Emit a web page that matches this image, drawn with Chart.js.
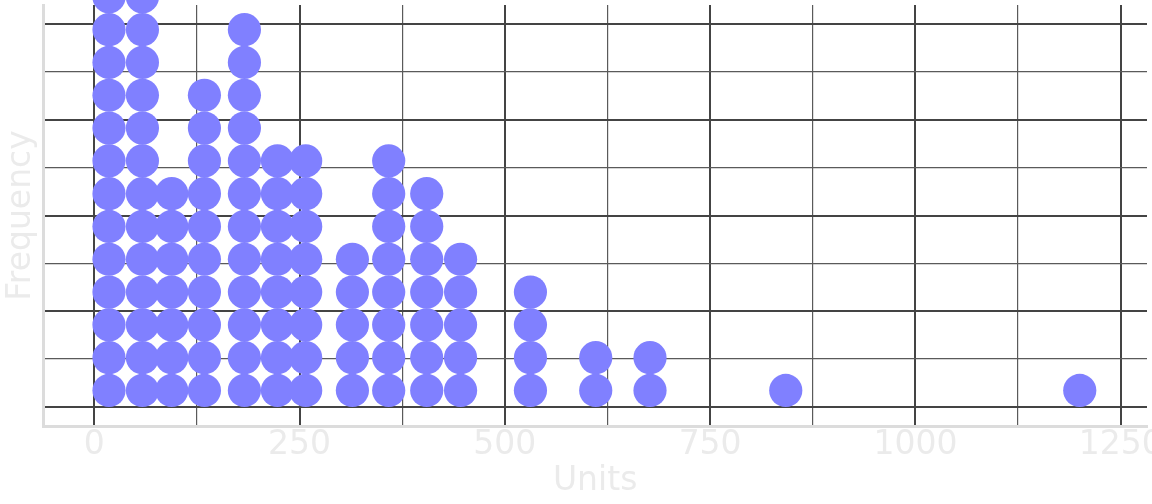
<!DOCTYPE html>
<html>
<head>
<meta charset="utf-8">
<script src="https://cdn.jsdelivr.net/npm/chart.js@4.4.1/dist/chart.umd.min.js"></script>
<style>
  html, body { margin: 0; padding: 0; background: #ffffff; }
  #wrap { width: 1152px; height: 504px; }
</style>
</head>
<body>
<div id="wrap"><canvas id="c" width="1152" height="504"></canvas></div>
<script>
// ---- data ----
const binCenters = [18.0, 58.7, 94.4, 134.2, 182.9, 223.1, 257.5, 314.4, 358.6, 404.9, 446.1, 531.2, 610.7, 676.8, 842.1, 1200.1];
const binCounts  = [13, 13, 7, 10, 12, 8, 8, 5, 8, 7, 5, 4, 2, 2, 1, 1];
const xMajorTicks = [0, 250, 500, 750, 1000, 1250];
const xMinorTicks = [125, 375, 625, 875, 1125];
const yMajorTicks = [0, 0.25, 0.5, 0.75, 1];
const yMinorTicks = [0.125, 0.375, 0.625, 0.875];
const xTitle = 'Units';
const yTitle = 'Frequency';

// ---- layout / style constants ----
const STACK_STEP = 0.0857;   // vertical spacing of stacked dots, in y-axis units
const FONT = 'DejaVu Sans';
const TEXT_COLOR = '#EBEBEB';
const AXIS_COLOR = '#DCDCDC';
const MAJOR_COLOR = '#444444';
const MINOR_COLOR = '#5a5a5a';

const points = [];
binCenters.forEach((cx, b) => {
  for (let i = 0; i < binCounts[b]; i++) {
    points.push({ x: cx, y: (i + 0.5) * STACK_STEP });
  }
});

const xTicksAll = xMajorTicks.concat(xMinorTicks).sort((a, b) => a - b);
const yTicksAll = yMajorTicks.concat(yMinorTicks).sort((a, b) => a - b);

new Chart(document.getElementById('c'), {
  type: 'scatter',
  data: {
    datasets: [{
      data: points,
      backgroundColor: '#8080FF',
      borderColor: '#8080FF',
      borderWidth: 0,
      pointRadius: 16.6,
      pointHoverRadius: 16.6,
      clip: false
    }]
  },
  options: {
    responsive: false,
    animation: false,
    events: [],
    layout: { autoPadding: false, padding: { top: 5, right: 5, bottom: 1, left: 1 } },
    plugins: { legend: { display: false }, tooltip: { enabled: false } },
    scales: {
      x: {
        type: 'linear',
        min: -62,
        max: 1282,
        afterBuildTicks: (axis) => { axis.ticks = xTicksAll.map(v => ({ value: v })); },
        afterFit: (axis) => { axis.paddingLeft = 0; axis.paddingRight = 0; },
        ticks: {
          autoSkip: false,
          maxRotation: 0,
          minRotation: 0,
          padding: 3,
          color: TEXT_COLOR,
          font: { family: FONT, size: 33, lineHeight: 1 },
          callback: (v) => xMajorTicks.includes(v) ? String(v) : ''
        },
        grid: {
          drawTicks: false,
          color: (ctx) => xMajorTicks.includes(ctx.tick.value) ? MAJOR_COLOR : MINOR_COLOR,
          lineWidth: (ctx) => xMajorTicks.includes(ctx.tick.value) ? 2 : 1.2
        },
        border: { display: true, color: AXIS_COLOR, width: 3 },
        title: {
          display: true,
          text: xTitle,
          color: TEXT_COLOR,
          font: { family: FONT, size: 33, lineHeight: 1 },
          padding: { top: 0, bottom: 5 }
        }
      },
      y: {
        type: 'linear',
        min: -0.05,
        max: 1.05,
        afterBuildTicks: (axis) => { axis.ticks = yTicksAll.map(v => ({ value: v })); },
        ticks: { display: false },
        grid: {
          drawTicks: false,
          color: (ctx) => yMajorTicks.includes(ctx.tick.value) ? MAJOR_COLOR : MINOR_COLOR,
          lineWidth: (ctx) => yMajorTicks.includes(ctx.tick.value) ? 2 : 1.2
        },
        border: { display: true, color: AXIS_COLOR, width: 3 },
        title: {
          display: true,
          text: yTitle,
          color: TEXT_COLOR,
          font: { family: FONT, size: 33, lineHeight: 1 },
          padding: { top: 3.5, bottom: 5.8 }
        }
      }
    }
  }
});
</script>
</body>
</html>
